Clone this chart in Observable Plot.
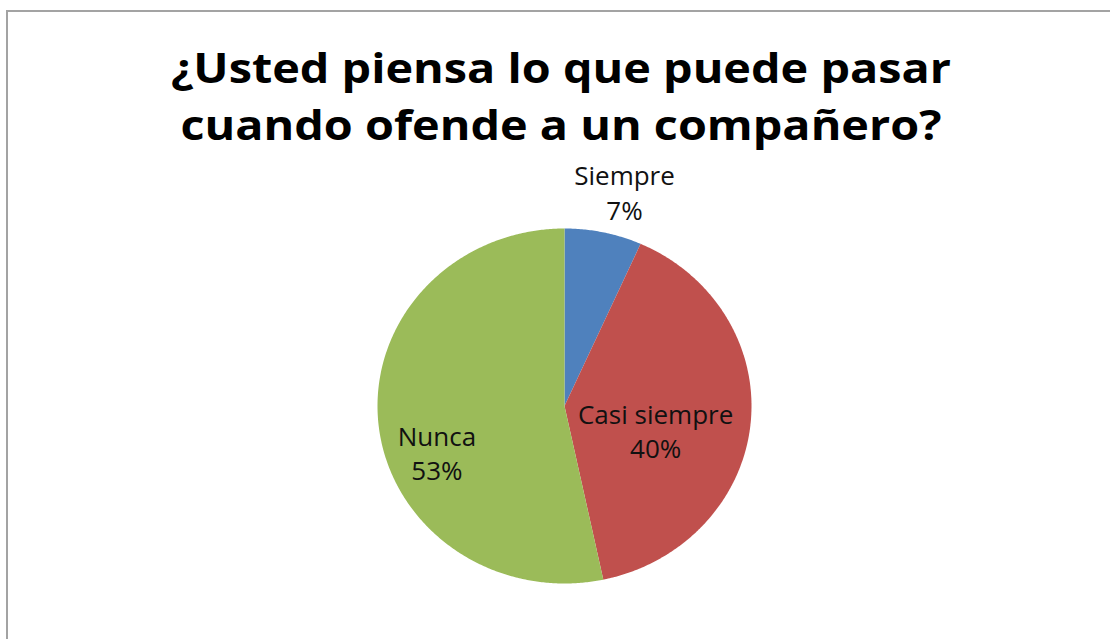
<!DOCTYPE html>
<html>
<head>
<meta charset="utf-8">
<script src="https://cdn.jsdelivr.net/npm/d3@7"></script>
<script src="https://cdn.jsdelivr.net/npm/@observablehq/plot@0.6"></script>
<style>
  html, body { margin: 0; padding: 0; background: #fff; overflow: hidden; }
  #wrap { position: relative; width: 1110px; height: 639px; overflow: hidden; background: #fff; }
  #frameL { position: absolute; left: 6px; top: 10px; width: 2px; height: 640px; background: #a3a3a3; }
  #frameT { position: absolute; left: 6px; top: 10px; width: 1104px; height: 2px; background: #a3a3a3; }
  #title { position: absolute; left: 0; top: 38px; width: 1122px; text-align: center;
           font-family: "Open Sans", Lato, sans-serif; font-weight: bold; font-size: 42px; line-height: 57px; color: #000;
           transform-origin: 561px 0; }
  #title span { white-space: pre; }
  #chart { position: absolute; left: 0; top: 0; }
</style>
</head>
<body>
<div id="wrap">
  <div id="chart"></div>
  <div id="frameL"></div>
  <div id="frameT"></div>
  <div id="title"><span id="t1">¿Usted piensa lo que puede pasar</span><br><span>cuando ofende a un compañero?</span></div>
</div>
<script>
// ---- data ----
const categories = ["Siempre", "Casi siempre", "Nunca"];
const values = [6.67, 40, 53.33];          // percent
const colors = ["#4F81BD", "#C0504D", "#9BBB59"];

// ---- layout (pixels) ----
const W = 1110, H = 639;
const cx = 564, cy = 405.5, rx = 187, ry = 177.5;

// fit the title's first line to its width in the reference
const t1w = document.getElementById("t1").getBoundingClientRect().width;
document.getElementById("title").style.transform = `scaleX(${780 / t1w})`;

const data = categories.map((c, i) => ({cat: c, value: values[i]}));
const arcs = d3.pie().sort(null).value(d => d.value)(data);

// slice outlines in unit-radius coordinates (angle clockwise from 12 o'clock)
const slicePts = [];
arcs.forEach(a => {
  const n = Math.max(2, Math.ceil((a.endAngle - a.startAngle) / (Math.PI / 360)));
  slicePts.push({cat: a.data.cat, x: 0, y: 0});
  for (let k = 0; k <= n; k++) {
    const t = a.startAngle + (a.endAngle - a.startAngle) * k / n;
    slicePts.push({cat: a.data.cat, x: Math.sin(t), y: Math.cos(t)});
  }
  slicePts.push({cat: a.data.cat, x: 0, y: 0});
});

// label placement: fraction of radius along the mid-angle, plus a pixel nudge
const labelPlace = {
  "Siempre":      {k: 1.235, dx: 12, dy: 0},
  "Casi siempre": {k: 0.49,  dx: 0,  dy: 15},
  "Nunca":        {k: 0.686, dx: 0,  dy: 33}
};
const labels = arcs.map(a => {
  const m = (a.startAngle + a.endAngle) / 2;
  const p = labelPlace[a.data.cat];
  return {cat: a.data.cat, x: p.k * Math.sin(m), y: p.k * Math.cos(m),
          text: a.data.cat + "\n" + Math.round(a.data.value) + "%", dx: p.dx, dy: p.dy};
});

const labelMarks = labels.map(l => Plot.text([l], {
  x: "x", y: "y", text: "text", dx: l.dx, dy: l.dy,
  fontSize: 26, lineHeight: 1.31, fill: "#111", textAnchor: "middle"
}));

const chart = Plot.plot({
  width: W, height: H,
  margin: 0,
  style: {fontFamily: "'Open Sans', Lato, sans-serif", background: "transparent"},
  x: {domain: [-cx / rx, (W - cx) / rx], axis: null},
  y: {domain: [-(H - cy) / ry, cy / ry], axis: null},
  color: {domain: categories, range: colors},
  marks: [
    Plot.line(slicePts, {x: "x", y: "y", z: "cat", fill: "cat", stroke: "none", curve: "linear"}),
    ...labelMarks
  ]
});
document.getElementById("chart").appendChild(chart);
</script>
</body>
</html>
